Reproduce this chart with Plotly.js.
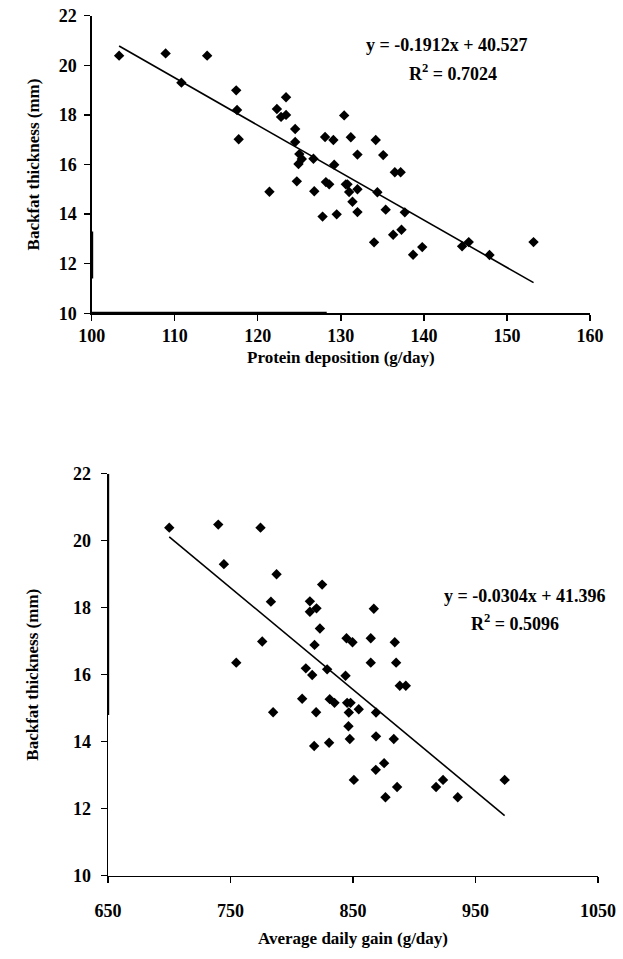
<!DOCTYPE html>
<html><head><meta charset="utf-8">
<script src="https://cdn.plot.ly/plotly-3.0.1.min.js"></script>
<style>html,body{margin:0;padding:0;background:#fff}</style>
</head><body><div id="chart" style="width:623px;height:959px"></div>
<script>
// Top chart: protein deposition vs backfat
const proteinDeposition = [103.3,108.9,113.9,110.8,117.4,117.5,117.7,123.4,122.3,122.8,123.4,124.5,124.5,125.0,125.3,124.9,126.7,128.1,129.1,130.4,131.2,132.0,129.2,124.7,121.4,126.8,128.2,128.6,130.6,130.8,131.0,132.0,131.4,132.0,127.8,129.5,134.2,135.1,134.4,136.5,137.2,135.4,137.7,134.0,136.3,137.3,139.8,138.7,144.6,145.4,147.9,153.2];
const backfatTop = [20.39,20.48,20.39,19.30,18.99,18.20,17.02,18.71,18.24,17.92,18.00,17.43,16.91,16.42,16.22,16.02,16.23,17.11,16.99,17.98,17.10,16.40,15.99,15.32,14.90,14.92,15.29,15.20,15.20,15.20,14.89,15.00,14.50,14.08,13.90,13.99,16.99,16.38,14.88,15.69,15.69,14.18,14.07,12.86,13.17,13.37,12.67,12.36,12.70,12.87,12.35,12.87];
// Bottom chart: average daily gain vs backfat
const dailyGain = [700,740,774.5,744.6,787.6,824.8,783,814.8,820.2,814.8,867,823,775.9,818.6,844.7,849.6,864.5,884.1,754.7,811.5,816.7,828.9,843.9,864.5,885.2,888.2,893.1,808.5,784.8,819.9,831,834.9,845.2,848,846.6,854.7,868.8,846.3,847.4,868.8,818.3,830.5,883.3,868.6,875.4,850.7,886,876.5,917.8,923.5,935.5,973.8];
const backfatBottom = [20.39,20.48,20.39,19.30,19.00,18.69,18.18,18.19,17.98,17.88,17.97,17.38,16.99,16.89,17.09,16.97,17.09,16.97,16.36,16.19,15.99,16.16,15.97,16.36,16.36,15.67,15.67,15.28,14.88,14.88,15.27,15.16,15.16,15.16,14.87,14.97,14.87,14.46,14.08,14.16,13.87,13.97,14.08,13.16,13.36,12.86,12.65,12.34,12.65,12.86,12.34,12.86];
// Regression equations shown on the chart
const slopeTop = -0.1912, interceptTop = 40.527, r2Top = '0.7024';
const slopeBottom = -0.0304, interceptBottom = 41.396, r2Bottom = '0.5096';
const yTicks = [10,12,14,16,18,20,22];
const xTicksTop = [100,110,120,130,140,150,160];
const xTicksBottom = [650,750,850,950,1050];

const FONT = 'Liberation Serif, Times New Roman, serif';
function trend(xs, m, b){
  const lo = Math.min(...xs), hi = Math.max(...xs);
  return {x:[lo,hi], y:[m*lo+b, m*hi+b]};
}
const tTop = trend(proteinDeposition, slopeTop, interceptTop);
const tBot = trend(dailyGain, slopeBottom, interceptBottom);
const mk = {symbol:'diamond', size:8, color:'#000'};
const data = [
  {type:'scatter', mode:'markers', x:proteinDeposition, y:backfatTop, marker:mk, xaxis:'x', yaxis:'y'},
  {type:'scatter', mode:'lines', x:tTop.x, y:tTop.y, line:{color:'#000', width:1.6}, xaxis:'x', yaxis:'y'},
  {type:'scatter', mode:'markers', x:dailyGain, y:backfatBottom, marker:mk, xaxis:'x2', yaxis:'y2'},
  {type:'scatter', mode:'lines', x:tBot.x, y:tBot.y, line:{color:'#000', width:1.6}, xaxis:'x2', yaxis:'y2'}
];
const W = 623, H = 959;
const tickFont = {family:FONT, size:18, color:'#000', weight:'bold'};
const titleFont = {family:FONT, size:17, color:'#000', weight:'bold'};
const annFont = {family:FONT, size:18, color:'#000', weight:'bold'};
function axis(extra){
  return Object.assign({showline:true, linecolor:'#000', linewidth:1.3, ticks:'outside', ticklen:6, tickcolor:'#000', tickwidth:1.3,
    showgrid:false, zeroline:false, tickfont:tickFont, fixedrange:true}, extra);
}
const thick = {color:'#000', width:3};
const layout = {
  width:W, height:H, margin:{l:0,r:0,t:0,b:0}, showlegend:false,
  paper_bgcolor:'#fff', plot_bgcolor:'#fff',
  xaxis: axis({domain:[91.7/W, 590/W], range:[100,160], tickvals:xTicksTop, anchor:'y',
    title:{text:'Protein deposition (g/day)', font:titleFont, standoff:6}}),
  yaxis: axis({domain:[1-313.3/H, 1-15.7/H], range:[10,22], tickvals:yTicks, anchor:'x', ticklabelstandoff:4,
    title:{text:'Backfat thickness (mm)', font:titleFont, standoff:14}}),
  xaxis2: axis({domain:[108/W, 598/W], range:[650,1050], tickvals:xTicksBottom, anchor:'y2', ticklabelstandoff:12,
    title:{text:'Average daily gain (g/day)', font:titleFont, standoff:12}}),
  yaxis2: axis({domain:[1-875.7/H, 1-473.7/H], range:[10,22], tickvals:yTicks, anchor:'x2', ticklabelstandoff:6,
    title:{text:'Backfat thickness (mm)', font:titleFont, standoff:30}}),
  shapes:[
    {type:'line', xref:'x', yref:'y', x0:100, x1:128.3, y0:10, y1:10, line:thick},
    {type:'line', xref:'x', yref:'y', x0:100, x1:100, y0:11.4, y1:13.3, line:thick},
    {type:'line', xref:'x2', yref:'y2', x0:650, x1:650, y0:14.8, y1:22, line:{color:'#000', width:2.4}}
  ],
  annotations:[
    {xref:'x', yref:'y', x:142.8, y:20.8, text:'y = '+slopeTop.toFixed(4)+'x + '+interceptTop.toFixed(3), showarrow:false, font:annFont},
    {xref:'x', yref:'y', x:143.5, y:19.72, text:'R<sup>2</sup> = '+r2Top, showarrow:false, font:annFont},
    {xref:'x2', yref:'y2', x:990, y:18.35, text:'y = '+slopeBottom.toFixed(4)+'x + '+interceptBottom.toFixed(3), showarrow:false, font:annFont},
    {xref:'x2', yref:'y2', x:982, y:17.57, text:'R<sup>2</sup> = '+r2Bottom, showarrow:false, font:annFont}
  ]
};
Plotly.newPlot('chart', data, layout, {displayModeBar:false, staticPlot:true});
</script></body></html>
